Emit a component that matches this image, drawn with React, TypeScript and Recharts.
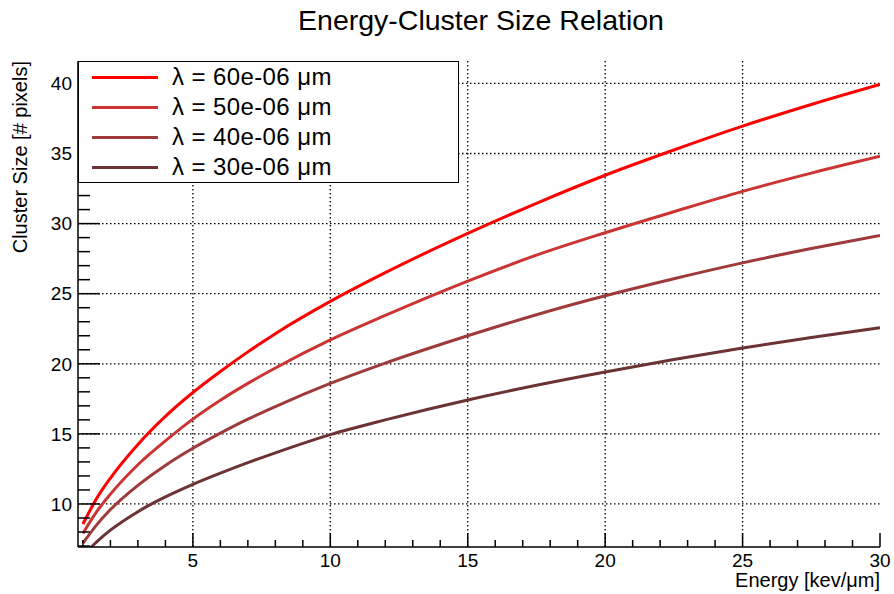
import React from 'react';
import { LineChart, Line, XAxis, YAxis, CartesianGrid, Legend } from 'recharts';

// ---- data ----
const energy = [1, 1.5, 2, 3, 4, 5, 6, 7, 8, 10, 12, 15, 17.5, 20, 22.5, 25, 27.5, 30];
const size60 = [8.57, 10.4, 11.85, 14.25, 16.25, 17.95, 19.45, 20.85, 22.15, 24.45, 26.5, 29.3, 31.45, 33.45, 35.25, 36.95, 38.5, 39.93];
const size50 = [7.9, 9.45, 10.7, 12.8, 14.5, 16.05, 17.4, 18.6, 19.7, 21.7, 23.45, 25.9, 27.75, 29.35, 30.85, 32.3, 33.6, 34.8];
const size40 = [7.2, 8.51, 9.6, 11.33, 12.75, 13.97, 15.05, 16.05, 16.95, 18.6, 20.05, 22.0, 23.5, 24.85, 26.07, 27.2, 28.22, 29.16];
const size30 = [6.3, 7.3, 8.13, 9.45, 10.5, 11.4, 12.2, 12.95, 13.65, 14.95, 16.0, 17.42, 18.47, 19.42, 20.3, 21.12, 21.88, 22.57];

const seriesKeys = ['s60', 's50', 's40', 's30'];
const seriesNames = ['λ = 60e-06 μm', 'λ = 50e-06 μm', 'λ = 40e-06 μm', 'λ = 30e-06 μm'];
const seriesColors = ['#ff0000', '#cc3434', '#9e3a3a', '#6b3333'];

const xDomain = [0.82, 30];
const yDomain = [6.93, 41.6];
const xTicks = [1, 2, 3, 4, 5, 6, 7, 8, 9, 10, 11, 12, 13, 14, 15, 16, 17, 18, 19, 20, 21, 22, 23, 24, 25, 26, 27, 28, 29, 30];
const xMajorTicks = [5, 10, 15, 20, 25, 30];
const xGrid = [5, 10, 15, 20, 25];
const yTicks = [7, 8, 9, 10, 11, 12, 13, 14, 15, 16, 17, 18, 19, 20, 21, 22, 23, 24, 25, 26, 27, 28, 29, 30, 31, 32, 33, 34, 35, 36, 37, 38, 39, 40, 41];
const yMajorTicks = [10, 15, 20, 25, 30, 35, 40];
const yGrid = [10, 15, 20, 25, 30, 35, 40];

const title = 'Energy-Cluster Size Relation';
const xTitle = 'Energy [kev/μm]';
const yTitle = 'Cluster Size [# pixels]';

const data = energy.map((e, i) => ({
  energy: e,
  s60: size60[i],
  s50: size50[i],
  s40: size40[i],
  s30: size30[i],
}));

const FONT = '"Liberation Sans", Arial, Helvetica, sans-serif';

const XTick = (props: any) => {
  const { x, y, payload } = props;
  const major = xMajorTicks.includes(payload.value);
  return (
    <g>
      <line x1={x} x2={x} y1={y} y2={y - (major ? 14 : 7)} stroke="#000" strokeWidth={1.5} />
      {major && (
        <text x={x} y={y + 19.5} textAnchor="middle" fontSize={19} fontFamily={FONT} fill="#000">
          {payload.value}
        </text>
      )}
    </g>
  );
};

const YTick = (props: any) => {
  const { x, y, payload } = props;
  const major = yMajorTicks.includes(payload.value);
  return (
    <g>
      <line x1={x} x2={x + (major ? 22 : 12)} y1={y} y2={y} stroke="#000" strokeWidth={1.5} />
      {major && (
        <text x={x - 6} y={y + 6.8} textAnchor="end" fontSize={19} fontFamily={FONT} fill="#000">
          {payload.value}
        </text>
      )}
    </g>
  );
};

const renderLegend = () => (
  <div
    style={{
      boxSizing: 'border-box',
      width: 381,
      height: 122,
      border: '1.4px solid #000',
      background: '#fff',
      fontFamily: FONT,
    }}
  >
    {seriesNames.map((name, i) => (
      <div key={name} style={{ display: 'flex', alignItems: 'center', height: 30 }}>
        <div style={{ width: 66, height: 3, background: seriesColors[i], marginLeft: 13 }} />
        <span style={{ marginLeft: 14, fontSize: 24, letterSpacing: 0.4, color: '#000', lineHeight: '30px' }}>{name}</span>
      </div>
    ))}
  </div>
);

export default function App() {
  return (
    <div style={{ position: 'absolute', left: 0, top: 0, width: 894, height: 594, background: '#fff', fontFamily: FONT }}>
      <LineChart width={894} height={594} data={data} margin={{ top: 61, right: 14, bottom: 0, left: 0 }}>
        <CartesianGrid
          verticalValues={xGrid}
          horizontalValues={yGrid}
          stroke="#000"
          strokeWidth={1.3}
          strokeDasharray="1.5 2.5"
        />
        <XAxis
          dataKey="energy"
          type="number"
          domain={xDomain}
          allowDataOverflow
          ticks={xTicks}
          interval={0}
          height={47}
          tickSize={0}
          tickMargin={0}
          tickLine={false}
          tick={<XTick />}
          axisLine={{ stroke: '#000', strokeWidth: 1.5 }}
          label={(p: any) => {
            const vb = p.viewBox || { x: 78, y: 547, width: 802 };
            return (
              <text x={vb.x + vb.width} y={vb.y + 40} textAnchor="end" fontSize={20} fontFamily={FONT} fill="#000">
                {xTitle}
              </text>
            );
          }}
        />
        <XAxis
          xAxisId="top"
          orientation="top"
          dataKey="energy"
          type="number"
          domain={xDomain}
          allowDataOverflow
          height={0}
          tick={false}
          tickLine={false}
          axisLine={{ stroke: '#000', strokeWidth: 1.2 }}
        />
        <YAxis
          type="number"
          domain={yDomain}
          allowDataOverflow
          ticks={yTicks}
          interval={0}
          width={78}
          tickSize={0}
          tickMargin={0}
          tickLine={false}
          tick={<YTick />}
          axisLine={{ stroke: '#000', strokeWidth: 1.5 }}
          label={(p: any) => {
            const vb = p.viewBox || { x: 0, y: 61 };
            const lx = vb.x + 27;
            const ly = vb.y;
            return (
              <text x={lx} y={ly} transform={`rotate(-90, ${lx}, ${ly})`} textAnchor="end" fontSize={20} fontFamily={FONT} fill="#000">
                {yTitle}
              </text>
            );
          }}
        />
        <YAxis
          yAxisId="right"
          orientation="right"
          width={0}
          tick={false}
          tickLine={false}
          axisLine={{ stroke: '#000', strokeWidth: 1.2 }}
        />
        {seriesKeys.map((k, i) => (
          <Line
            key={k}
            type="monotone"
            dataKey={k}
            name={seriesNames[i]}
            stroke={seriesColors[i]}
            strokeWidth={3}
            dot={false}
            isAnimationActive={false}
          />
        ))}
        <Legend
          layout="vertical"
          align="center"
          verticalAlign="middle"
          wrapperStyle={{ left: 78, top: 61, width: 381, height: 122 }}
          content={renderLegend}
        />
      </LineChart>
      <svg
        width={894}
        height={45}
        style={{ position: 'absolute', left: 0, top: 0, pointerEvents: 'none' }}
      >
        <text x={481} y={29.5} textAnchor="middle" fontSize={28.5} fontFamily={FONT} fill="#000">
          {title}
        </text>
      </svg>
    </div>
  );
}
